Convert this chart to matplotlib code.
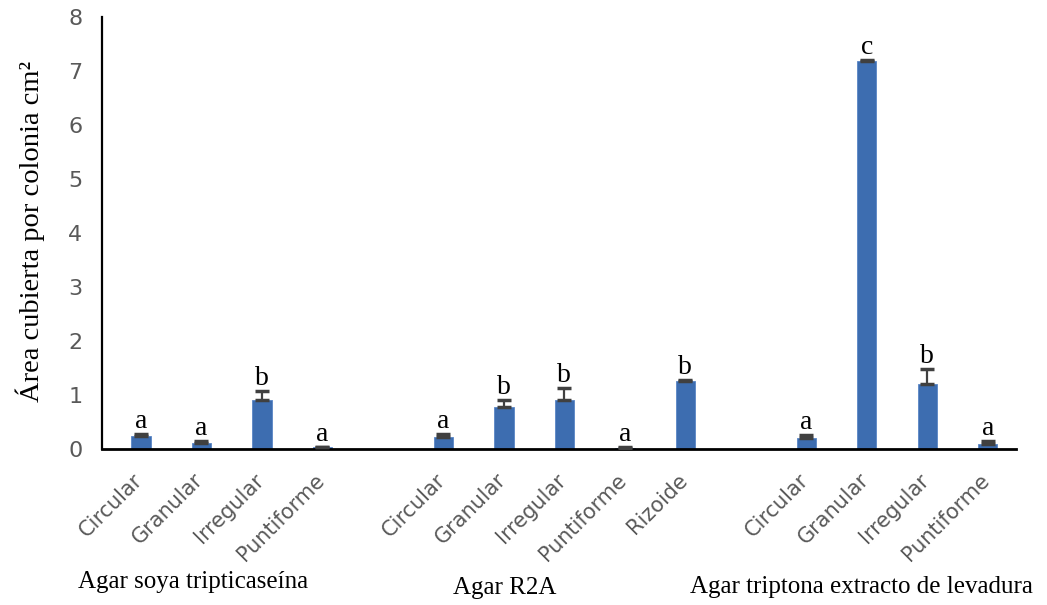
import numpy as np
import matplotlib.pyplot as plt
import matplotlib.transforms as mtransforms

# datos
grupos = ["Agar soya tripticaseína", "Agar R2A", "Agar triptona extracto de levadura"]
formas_1 = ["Circular", "Granular", "Irregular", "Puntiforme"]
formas_2 = ["Circular", "Granular", "Irregular", "Puntiforme", "Rizoide"]
formas_3 = ["Circular", "Granular", "Irregular", "Puntiforme"]
area_1 = [0.24, 0.11, 0.91, 0.03]
area_2 = [0.23, 0.77, 0.90, 0.02, 1.26]
area_3 = [0.21, 7.19, 1.21, 0.10]
err_1 = [0.04, 0.04, 0.17, 0.01]
err_2 = [0.05, 0.13, 0.22, 0.01, 0.02]
err_3 = [0.05, 0.02, 0.27, 0.04]
letras_1 = ["a", "a", "b", "a"]
letras_2 = ["a", "b", "b", "a", "b"]
letras_3 = ["a", "c", "b", "a"]

formas = [formas_1, formas_2, formas_3]
areas = [area_1, area_2, area_3]
errs = [err_1, err_2, err_3]
letras = [letras_1, letras_2, letras_3]

# posiciones: un hueco vacio entre grupos (como en Excel)
x = []
etiquetas = []
y = []
e = []
l = []
pos = 0
for g in range(3):
    for i in range(len(formas[g])):
        x.append(pos)
        etiquetas.append(formas[g][i])
        y.append(areas[g][i])
        e.append(errs[g][i])
        l.append(letras[g][i])
        pos = pos + 1
    pos = pos + 1
x = np.array(x)
y = np.array(y)
e = np.array(e)

fig = plt.figure(figsize=(10.47, 6.05), dpi=100)
ax = fig.add_axes([0.0974, 0.2579, 0.8726, 0.7140])

ax.bar(x, y, width=0.32, color="#3d6db0", edgecolor="#5a86c6", linewidth=0.6, zorder=2)
ax.errorbar(x, y, yerr=[np.zeros(len(e)), e], fmt="none", ecolor="#404040",
            elinewidth=1.6, capsize=5, capthick=2.5, zorder=3)
for i in range(len(x)):
    ax.annotate(l[i], (x[i], y[i] + e[i]), xytext=(0, 0), textcoords="offset points",
                ha="center", va="bottom", fontsize=20, family="Liberation Serif", color="black")

ax.set_xlim(-0.645, 14.46)
ax.set_ylim(0, 8)
ax.set_yticks(range(0, 9))
ax.set_xticks(x)
ax.set_xticklabels(etiquetas, rotation=45, ha="right", rotation_mode="anchor")
ax.tick_params(axis="x", length=0, pad=15, labelsize=15, labelcolor="#595959")
ax.tick_params(axis="y", length=0, pad=14, labelsize=16, labelcolor="#595959")
# mover un poco las etiquetas a la izquierda
desplaz = mtransforms.ScaledTranslation(-6 / 72, 0, fig.dpi_scale_trans)
for lab in ax.get_xticklabels():
    lab.set_transform(lab.get_transform() + desplaz)
for s in ["top", "right"]:
    ax.spines[s].set_visible(False)
ax.spines["left"].set_linewidth(1.6)
ax.spines["bottom"].set_linewidth(2.0)

fig.text(0.029, 0.617, "Área cubierta por colonia cm²", rotation=90, ha="center", va="center",
         fontsize=20.5, family="Liberation Serif")

# nombres de los medios debajo de las etiquetas
fig.text(0.184, 0.038, grupos[0], ha="center", va="center", fontsize=18, family="Liberation Serif")
fig.text(0.482, 0.028, grupos[1], ha="center", va="center", fontsize=18, family="Liberation Serif")
fig.text(0.823, 0.030, grupos[2], ha="center", va="center", fontsize=18, family="Liberation Serif")

fig.savefig("out.png", dpi=100)
